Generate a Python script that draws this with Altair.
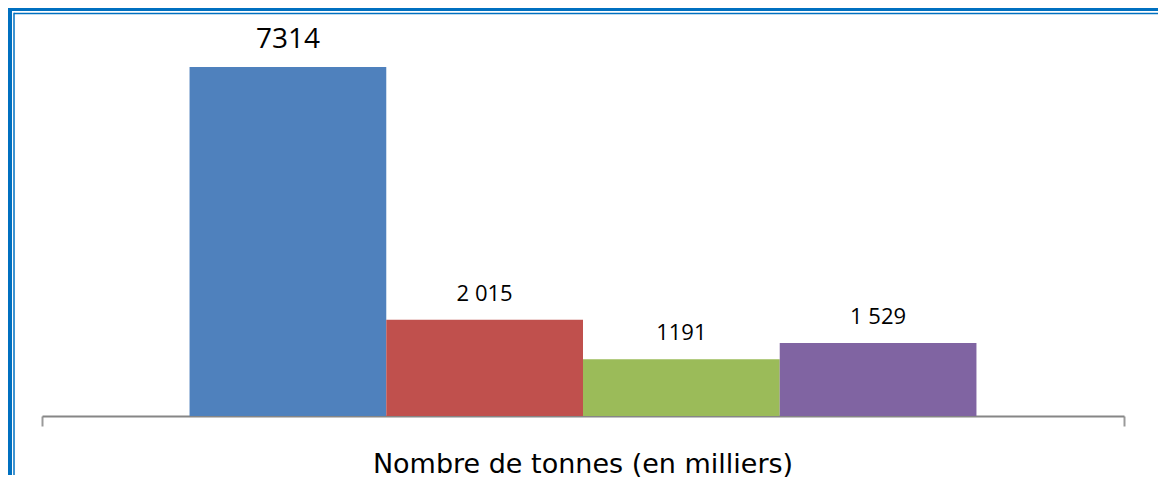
import altair as alt
import pandas as pd

# ---- data ----
categorie = "Nombre de tonnes (en milliers)"
series = ["Série 1", "Série 2", "Série 3", "Série 4"]
valeurs = [7314, 2015, 1191, 1529]
libelles = ["7314", "2 015", "1191", "1 529"]
couleurs = ["#4F81BD", "#C0504D", "#9BBB59", "#8064A2"]

df = pd.DataFrame({
    "cat": [categorie] * len(series),
    "serie": series,
    "valeur": valeurs,
    "libelle": libelles,
})
one = pd.DataFrame({"k": [0]})

bleu = "#0070C0"

x_enc = alt.X(
    "cat:N",
    scale=alt.Scale(paddingInner=0, paddingOuter=0),
    axis=alt.Axis(
        title=None, labelAngle=0, bandPosition=1, tickExtra=True,
        domainColor="#868686", domainWidth=2,
        tickColor="#9A9A9A", tickWidth=2, tickSize=10,
        labelFont="DejaVu Sans", labelFontSize=27, labelColor="#000000",
        labelPadding=46, labelBaseline="alphabetic", labelLimit=0,
    ),
)
xo = alt.XOffset("serie:N", scale=alt.Scale(domain=series, paddingInner=0, paddingOuter=0.75), sort=series)
y_enc = alt.Y("valeur:Q", scale=alt.Scale(domain=[0, 8550], nice=False, zero=True), axis=None)

bars = alt.Chart(df).mark_bar().encode(
    x=x_enc,
    xOffset=xo,
    y=y_enc,
    color=alt.Color("serie:N", scale=alt.Scale(domain=series, range=couleurs), legend=None),
)

texts = alt.Chart(df).mark_text(font="Open Sans", baseline="alphabetic", dy=-19, color="#000000").encode(
    x=x_enc,
    xOffset=xo,
    y=y_enc,
    text="libelle:N",
    size=alt.condition(alt.datum.serie == series[0], alt.value(28), alt.value(22)),
)

# ---- double frame (top and left visible) ----
top_thick = alt.Chart(one).mark_rule(color=bleu, strokeWidth=3).encode(
    x=alt.value(-34), x2=alt.value(1116), y=alt.value(1.5))
top_thin = alt.Chart(one).mark_rule(color=bleu, strokeWidth=1.5).encode(
    x=alt.value(-28), x2=alt.value(1116), y=alt.value(5.5))
left_thick = alt.Chart(one).mark_rule(color=bleu, strokeWidth=4).encode(
    x=alt.value(-32), y=alt.value(0), y2=alt.value(467))
left_thin = alt.Chart(one).mark_rule(color=bleu, strokeWidth=1.5).encode(
    x=alt.value(-28), y=alt.value(4.75), y2=alt.value(467))

chart = alt.layer(bars, texts, top_thick, top_thin, left_thick, left_thin).properties(
    width=1082,
    height=408,
    autosize=alt.AutoSizeParams(type="none"),
    padding={"left": 34, "right": 34, "top": 0, "bottom": 63},
    background="white",
).configure_view(stroke=None)

chart.save("out.html", embed_options={"renderer": "svg", "actions": False})
